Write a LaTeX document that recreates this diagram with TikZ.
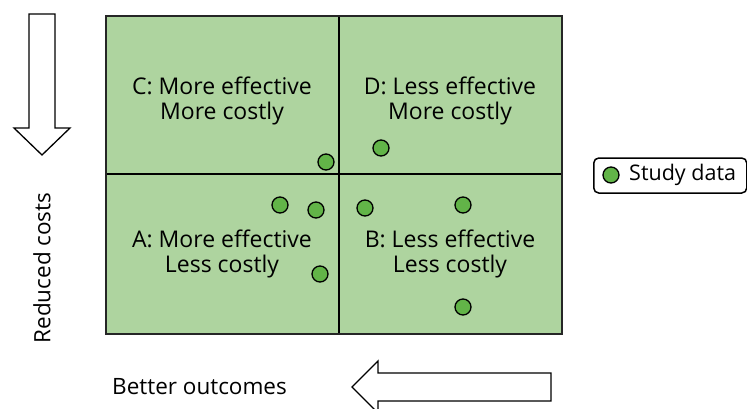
\documentclass[tikz,border=0pt]{standalone}
\usepackage{fontspec}
\setmainfont{Open Sans}
\definecolor{quadfill}{RGB}{174,212,159}
\definecolor{dotgreen}{RGB}{98,180,72}
\begin{document}
\begin{tikzpicture}[x=1pt,y=-1pt,
  lbl/.style={align=center, inner sep=0pt, font=\fontsize{23}{25.5}\selectfont},
  axislbl/.style={inner sep=0pt, font=\fontsize{22.5}{25}\selectfont},
  legendlbl/.style={inner sep=0pt, font=\fontsize{21.5}{25}\selectfont},
  studydot/.style={circle, draw=black, line width=1.3pt, fill=dotgreen, minimum size=16pt, inner sep=0pt},
  bigarrow/.style={draw=black, line width=1.3pt, fill=white, line join=miter},
  grid line/.style={draw=black, line width=1.8pt}]
\clip (0,0) rectangle (747,408);
\useasboundingbox (0,0) rectangle (747,408);
% quadrant field
\fill[quadfill] (106,16) rectangle (562,334);
\draw[grid line] (339,16) -- (339,334);
\draw[grid line] (106,174) -- (562,174);
\draw[draw=black!85, line width=2pt] (106,16) rectangle (562,334);
% quadrant labels
\node[lbl] (qC) at (222,101) {C: More effective\\More costly};
\node[lbl] (qD) at (450,101) {D: Less effective\\More costly};
\node[lbl] (qA) at (222,254) {A: More effective\\Less costly};
\node[lbl] (qB) at (450,254) {B: Less effective\\Less costly};
% study data
\node[studydot] (d1) at (326,162) {};
\node[studydot] (d2) at (381,148) {};
\node[studydot] (d3) at (280,205) {};
\node[studydot] (d4) at (316,210) {};
\node[studydot] (d5) at (365,208) {};
\node[studydot] (d6) at (463,205) {};
\node[studydot] (d7) at (320,274) {};
\node[studydot] (d8) at (463,307) {};
% legend
\node[draw=black, line width=1.5pt, rounded corners=5pt, fill=white, minimum width=153pt, minimum height=35pt, inner sep=0pt, anchor=west] (legend) at (593,175.5) {};
\node[studydot] (legdot) at (611,175) {};
\node[legendlbl, anchor=west] (legtxt) at (629,175) {Study data};
% down arrow
\path[bigarrow] (29,14) -- (55,14) -- (55,128) -- (70,128) -- (42,155) -- (14,128) -- (29,128) -- cycle;
\node[axislbl, rotate=90] (costs) at (42,268) {Reduced costs};
% left arrow
\path[bigarrow] (551,373) -- (551,401) -- (378,401) -- (378,413) -- (352,387) -- (378,361) -- (378,373) -- cycle;
\node[axislbl, anchor=west] (outcomes) at (112,387) {Better outcomes};
\end{tikzpicture}
\end{document}
